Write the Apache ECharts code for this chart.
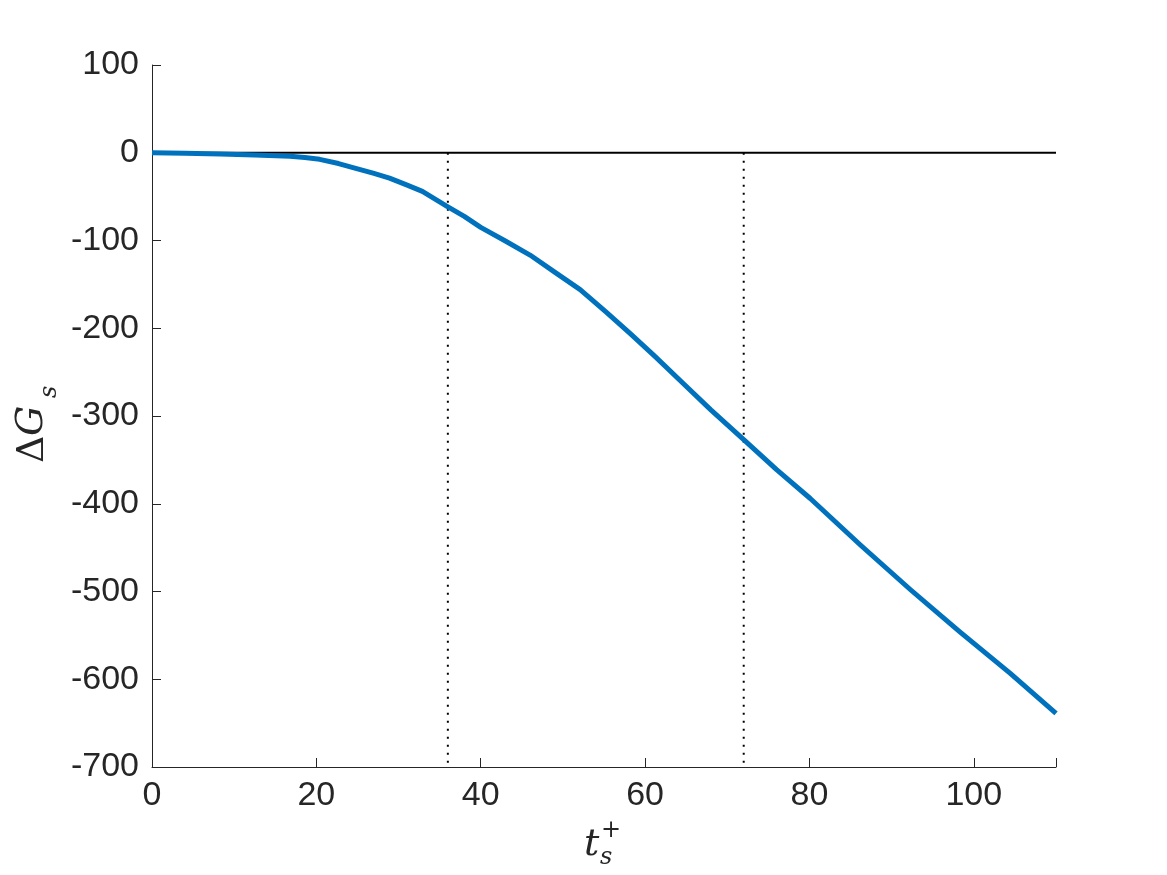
<!DOCTYPE html>
<html>
<head>
<meta charset="utf-8">
<script src="https://cdn.jsdelivr.net/npm/echarts@6/dist/echarts.min.js"></script>
<style>html,body{margin:0;padding:0;background:#fff;}#c{width:1167px;height:875px;}</style>
</head>
<body>
<div id="c"></div>
<script>
const xValues = [0, 4, 8.3, 12.5, 16.8, 18.6, 20.4, 22.7, 24.9, 26.9, 28.9, 30.9, 32.9, 35.9, 38, 40, 43, 46, 49, 52.1, 55.2, 58.2, 61.2, 64.2, 68, 72, 76, 80.1, 86.2, 92.3, 98.3, 104.4, 110];
const yValues = [0, -0.7, -1.5, -2.7, -4, -5.5, -7.5, -12.3, -18, -23.3, -29, -36.3, -44, -61, -72.5, -85, -100.5, -116.6, -136, -156, -181, -206, -232, -259, -293, -327, -361, -394, -447, -498, -546, -593, -639];
const xTicks = [0, 20, 40, 60, 80, 100];
const yTicks = [100, 0, -100, -200, -300, -400, -500, -600, -700];
const vLines = [36, 72];
const zeroLine = [0, 110];

const chart = echarts.init(document.getElementById('c'));
const font = 'Liberation Sans, Arial, sans-serif';
const axisCol = '#262626';
const serif = '"DejaVu Serif", "Liberation Serif", serif';
chart.setOption({
  animation: false,
  backgroundColor: '#fff',
  grid: {left: 152, right: 111, top: 65, bottom: 108, containLabel: false},
  xAxis: {
    type: 'value', min: 0, max: 110, interval: 20,
    axisLine: {show: true, onZero: false, lineStyle: {color: axisCol, width: 1}},
    axisTick: {show: true, inside: true, length: 9, lineStyle: {color: axisCol}},
    axisLabel: {color: axisCol, fontSize: 34, fontFamily: font, margin: 12,
      formatter: v => xTicks.includes(v) ? String(v) : ''},
    splitLine: {show: false}
  },
  yAxis: {
    type: 'value', min: -700, max: 100, interval: 100,
    axisLine: {show: true, onZero: false, lineStyle: {color: axisCol, width: 1}},
    axisTick: {show: true, inside: true, length: 9, lineStyle: {color: axisCol}},
    axisLabel: {color: axisCol, fontSize: 34, fontFamily: font, margin: 13,
      formatter: v => yTicks.includes(v) ? String(v) : ''},
    splitLine: {show: false}
  },
  series: [
    {
      type: 'line', data: zeroLine.map(x => [x, 0]), symbol: 'none',
      lineStyle: {color: '#000', width: 2}, z: 1
    },
    {
      type: 'line', data: [[vLines[0], 0], [vLines[0], -700]], symbol: 'none',
      lineStyle: {color: '#000', width: 2, type: [2, 6]}, z: 1
    },
    {
      type: 'line', data: [[vLines[1], 0], [vLines[1], -700]], symbol: 'none',
      lineStyle: {color: '#000', width: 2, type: [2, 6]}, z: 1
    },
    {
      type: 'line', data: xValues.map((x, i) => [x, yValues[i]]), symbol: 'none',
      lineStyle: {color: '#0072BD', width: 5, join: 'round'}, z: 3
    }
  ],
  graphic: [
    {type: 'text', left: 584, top: 826, style: {text: 't', font: 'italic 38px ' + serif, fill: axisCol}},
    {type: 'text', left: 601, top: 819, style: {text: '+', font: '24px ' + serif, fill: axisCol}},
    {type: 'text', left: 600, top: 846, style: {text: 's', font: 'italic 24px ' + serif, fill: axisCol}},
    {type: 'text', x: 14, y: 463, rotation: Math.PI / 2, style: {text: 'Δ', font: '38px ' + serif, fill: axisCol, textAlign: 'left', textVerticalAlign: 'top'}},
    {type: 'text', x: 13, y: 436, rotation: Math.PI / 2, style: {text: 'G', font: 'italic 38px ' + serif, fill: axisCol, textAlign: 'left', textVerticalAlign: 'top'}},
    {type: 'text', x: 38, y: 398, rotation: Math.PI / 2, style: {text: 's', font: 'italic 24px ' + serif, fill: axisCol, textAlign: 'left', textVerticalAlign: 'top'}}
  ]
});
</script>
</body>
</html>
